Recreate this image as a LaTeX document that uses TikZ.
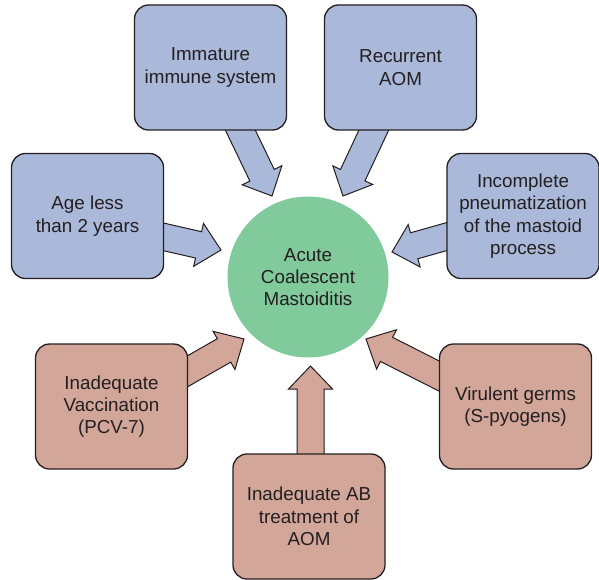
\documentclass[tikz,border=0pt]{standalone}
\usepackage{fontspec}
\setmainfont{Liberation Sans}
\usetikzlibrary{calc}
\definecolor{bluef}{HTML}{AAB9DA}
\definecolor{greenf}{HTML}{80CA9C}
\definecolor{pinkf}{HTML}{D3A69A}
\definecolor{linec}{HTML}{231F20}
\tikzset{
  box/.style={rectangle, rounded corners=14pt, draw=linec, line width=1.3pt,
    minimum width=152pt, minimum height=125pt, align=center, text=linec,
    font=\fontsize{18.8}{22.3}\selectfont, inner sep=2pt},
  hub/.style={circle, fill=greenf, minimum size=161pt, align=center, text=linec,
    font=\fontsize{18.8}{22}\selectfont, inner sep=0pt},
  arr/.style={draw=linec, line width=1pt, line join=miter}
}
\newcommand\blockarr[3]{%
  \coordinate (ba-b) at ($(#2)!23pt!(#1)$);
  \draw[arr, fill=#3] ($(#1)!13.5pt!90:(#2)$) -- ($(ba-b)!13.5pt!90:(#2)$)
    -- ($(ba-b)!22pt!90:(#2)$) -- (#2) -- ($(ba-b)!22pt!-90:(#2)$)
    -- ($(ba-b)!13.5pt!-90:(#2)$) -- ($(#1)!13.5pt!-90:(#2)$) -- cycle;}
\begin{document}
\begin{tikzpicture}[x=1pt, y=-1pt]
\useasboundingbox (0,0) rectangle (599,580);
\node[hub] (hub) at (308,277) {Acute\\Coalescent\\Mastoiditis};
% arrow endpoints
\coordinate (s1) at (235,119);   \coordinate (t1) at (272,196);
\coordinate (s2) at (379,119);   \coordinate (t2) at (343,196);
\coordinate (s3) at (151,234);   \coordinate (t3) at (221,250);
\coordinate (s4) at (459.5,233); \coordinate (t4) at (392,252);
\coordinate (s5) at (177.6,377); \coordinate (t5) at (244,339);
\coordinate (s6) at (449.7,381.4); \coordinate (t6) at (366,339);
\coordinate (s7) at (310.5,467); \coordinate (t7) at (310.5,366);
\blockarr{s1}{t1}{bluef}
\blockarr{s2}{t2}{bluef}
\blockarr{s3}{t3}{bluef}
\blockarr{s4}{t4}{bluef}
\blockarr{s5}{t5}{pinkf}
\blockarr{s6}{t6}{pinkf}
\blockarr{s7}{t7}{pinkf}
% boxes
\node[box, fill=bluef] (imm) at (210.5,67.5) {Immature\\immune system};
\node[box, fill=bluef] (rec) at (400.5,67.5) {Recurrent\\AOM};
\node[box, fill=bluef] (age) at (87.5,216) {Age less\\than 2 years};
\node[box, fill=bluef] (inc) at (523,216) {Incomplete\\pneumatization\\of the mastoid\\process};
\node[box, fill=pinkf] (vac) at (111.5,406.5) {Inadequate\\Vaccination\\(PCV-7)};
\node[box, fill=pinkf] (vir) at (515.5,406.5) {Virulent germs\\(S-pyogens)};
\node[box, fill=pinkf] (ab) at (309,516.5) {Inadequate AB\\treatment of\\AOM};
\end{tikzpicture}
\end{document}
